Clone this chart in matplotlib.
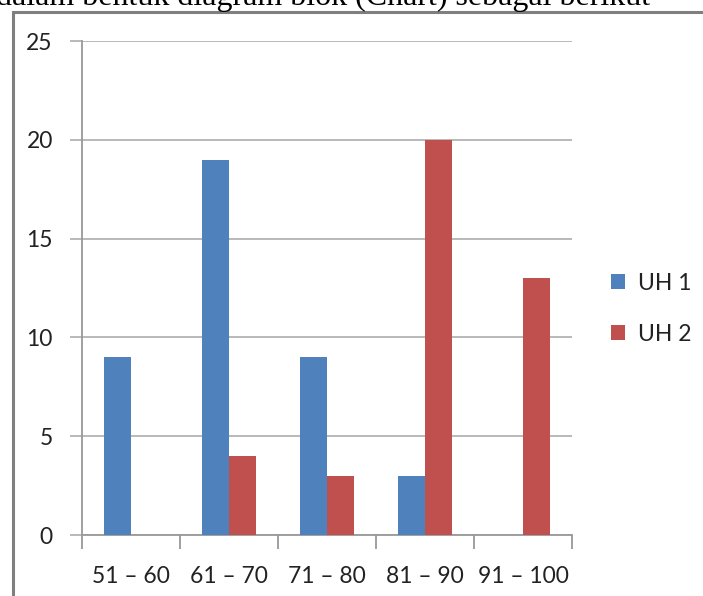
import matplotlib.pyplot as plt
from matplotlib.patches import Rectangle
import numpy as np

categories = ['51 – 60', '61 – 70', '71 – 80', '81 – 90', '91 – 100']
uh1 = [9, 19, 9, 3, 0]
uh2 = [0, 4, 3, 20, 13]
yticks = [0, 5, 10, 15, 20, 25]

plt.rcParams['font.family'] = ['Lato', 'DejaVu Sans']

W, H = 703, 596
fig = plt.figure(figsize=(W / 100, H / 100), dpi=100)
fig.patch.set_facecolor('white')

# page text above the chart box (cut off at the top)
fig.text(-4 / W, 1 - 5 / H, 'dalam bentuk diagram blok (Chart) sebagai berikut',
         family='Liberation Serif', fontsize=23, color='black', ha='left', va='baseline')

# chart frame
fig.add_artist(Rectangle((13 / W, -0.2), 1.2, 1 - 12 / H + 0.2, transform=fig.transFigure,
                         fill=False, edgecolor='#7f7f7f', linewidth=2.2, clip_on=False))

ax = fig.add_axes([82 / W, (H - 535) / H, (572 - 82) / W, (535 - 41) / H])

x = np.arange(len(categories))
w = 0.28
ax.bar(x - w / 2, uh1, w, color='#4F81BD', label='UH 1', zorder=3)
ax.bar(x + w / 2, uh2, w, color='#C0504D', label='UH 2', zorder=3)

ax.set_xlim(-0.5, len(categories) - 0.5)
ax.set_ylim(0, 25)
ax.set_yticks(yticks)
ax.yaxis.grid(True, color='#b3b3b3', linewidth=1.3, zorder=0)

ax.set_xticks(np.arange(len(categories) + 1) - 0.5)
ax.set_xticklabels([])
ax.set_xticks(x, minor=True)
ax.set_xticklabels(categories, minor=True, fontsize=16.5, color='#222222')
ax.tick_params(axis='x', which='minor', length=0, pad=22)
ax.tick_params(axis='x', which='major', length=10, width=1.3, color='#999999', direction='out')
ax.tick_params(axis='y', length=9, width=1.3, color='#b3b3b3', labelsize=16.5, labelcolor='#222222', pad=12)

for s in ['top', 'right']:
    ax.spines[s].set_visible(False)
ax.spines['left'].set_color('#999999')
ax.spines['left'].set_linewidth(1.3)
ax.spines['bottom'].set_color('#999999')
ax.spines['bottom'].set_linewidth(1.3)

ax.legend(loc='center left', bbox_to_anchor=(1.037, 0.458), frameon=False, fontsize=16.5,
          handlelength=0.6, handleheight=0.6, labelspacing=1.3, handletextpad=0.6,
          labelcolor='#222222')

fig.savefig('out.png', dpi=100)
